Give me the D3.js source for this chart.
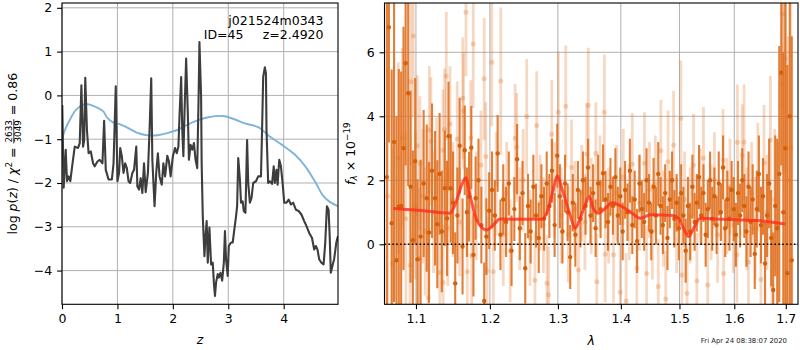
<!DOCTYPE html>
<html>
<head>
<meta charset="utf-8">
<script src="https://cdn.jsdelivr.net/npm/d3@7"></script>
<style>
  body { margin: 0; background: #fff; }
  svg { display: block; font-family: "DejaVu Sans", sans-serif; }
  text { white-space: pre; }
</style>
</head>
<body>
<svg id="chart" width="800" height="350"></svg>
<script>
// ---- redshift probability: log p(z) ----
const pzZ = [
  0.005,0.03,0.067,0.09,0.12,0.15,0.19,0.23,0.29,0.32,
  0.35,0.38,0.40,0.42,0.45,0.48,0.52,0.56,0.59,0.64,
  0.68,0.73,0.76,0.79,0.84,0.90,0.93,0.97,1.00,1.03,
  1.05,1.08,1.11,1.14,1.17,1.20,1.23,1.27,1.30,1.34,
  1.36,1.39,1.42,1.45,1.48,1.51,1.55,1.58,1.61,1.63,
  1.65,1.67,1.70,1.73,1.76,1.80,1.83,1.86,1.90,1.93,
  1.96,2.00,2.04,2.07,2.10,2.12,2.15,2.17,2.19,2.21,
  2.24,2.27,2.29,2.32,2.35,2.38,2.41,2.44,2.465,2.48,
  2.51,2.52,2.54,2.57,2.59,2.61,2.63,2.66,2.69,2.72,
  2.74,2.76,2.78,2.81,2.83,2.86,2.89,2.92,2.94,2.96,
  2.99,3.01,3.05,3.08,3.11,3.14,3.16,3.18,3.21,3.23,
  3.26,3.28,3.31,3.33,3.34,3.36,3.39,3.42,3.45,3.50,
  3.54,3.59,3.61,3.63,3.66,3.68,3.69,3.72,3.75,3.79,
  3.82,3.84,3.87,3.89,3.92,3.95,3.98,4.01,4.05,4.09,
  4.13,4.17,4.22,4.27,4.32,4.37,4.41,4.46,4.51,4.55,
  4.58,4.61,4.64,4.68,4.72,4.75,4.78,4.81,4.83,4.85,
  4.88,4.91,4.95,4.98
];
const pzLogP = [
  -0.22,-2.11,-1.24,-1.96,-1.85,-1.96,-1.55,-1.17,-1.20,-1.09,
  0.23,-1.17,-1.02,0.40,-0.79,-1.32,-1.28,-1.55,-1.62,-1.51,
  -1.47,-1.55,-0.58,-1.70,-1.92,-1.92,-1.55,0.21,-1.96,-1.77,
  -1.20,-1.39,-1.77,-1.55,-1.66,-1.96,-2.00,-1.77,-1.70,-1.17,
  -2.08,-2.15,-1.89,-2.23,-1.55,-2.21,-1.77,-0.79,0.39,-1.47,
  -2.00,-2.53,-1.77,-1.32,-1.85,-2.04,-1.55,-1.85,-1.38,-1.51,
  -1.85,-1.39,-1.20,-1.32,-1.17,-0.48,0.42,-0.79,-1.39,-0.41,
  0.84,-0.41,-1.47,-1.13,-1.24,-1.09,-1.47,-1.66,-0.03,1.22,
  -0.03,-1.55,-2.76,-3.67,-3.21,-2.87,-3.82,-3.02,-3.86,-3.82,
  -4.27,-4.58,-4.27,-4.08,-4.16,-4.05,-4.23,-3.82,-3.10,-3.74,
  -4.12,-3.44,-3.36,-3.36,-3.06,-2.76,-2.53,-1.43,-1.92,-2.45,
  -2.42,-2.64,-2.68,-1.55,-1.02,-2.00,-2.45,-2.34,-2.00,-1.96,
  -1.85,-1.85,-0.79,0.42,0.64,0.50,-0.79,-2.00,-1.96,-2.02,
  -1.62,-2.00,-1.70,-2.04,-1.47,-1.62,-2.00,-2.45,-2.45,-2.38,
  -2.49,-2.45,-2.61,-2.64,-2.72,-2.87,-2.98,-3.14,-3.25,-3.52,
  -3.44,-3.52,-3.74,-3.82,-3.86,-3.36,-2.53,-2.61,-3.21,-4.05,
  -3.89,-3.74,-3.36,-3.21
];
// smooth prior curve
const priorZ = [0.0,0.05,0.14,0.26,0.41,0.50,0.62,0.75,0.81,0.93,1.05,1.17,1.35,1.53,1.72,1.90,2.08,2.26,2.47,2.64,2.91,3.12,3.30,3.55,3.73,3.97,4.21,4.39,4.58,4.70,4.82,4.98];
const priorLogP = [-1.02,-0.80,-0.56,-0.32,-0.20,-0.21,-0.27,-0.37,-0.50,-0.62,-0.66,-0.73,-0.85,-0.91,-0.91,-0.86,-0.79,-0.67,-0.56,-0.50,-0.47,-0.55,-0.64,-0.73,-0.92,-1.13,-1.36,-1.62,-2.00,-2.27,-2.42,-2.53];

// ---- spectrum: primary extraction ----
const waveA = [
  1.063,1.0655,1.069,1.072,1.075,1.078,1.081,1.084,1.0867,1.090,1.093,1.096,1.099,
  1.102,1.106,1.110,1.114,1.117,1.121,1.125,1.128,1.131,1.134,
  1.138,1.141,1.143,1.146,1.149,1.152,1.155,1.158,1.162,1.165,
  1.168,1.171,1.174,1.177,1.180,1.184,1.188,1.192,1.195,1.199,
  1.203,1.207,1.211,1.215,1.219,1.223,1.227,1.231,1.235,1.239,1.243,1.247,1.251,1.255,1.259,1.263,1.267,1.271,1.275,1.279,1.283,1.287,1.291,1.295,1.299,
  1.303,1.307,1.311,1.315,1.319,1.323,1.327,1.331,1.335,1.339,1.343,1.347,1.351,1.355,1.359,1.363,1.367,1.371,1.375,1.379,1.383,1.387,1.391,1.395,1.399,
  1.403,1.407,1.411,1.415,1.419,1.423,1.427,1.431,1.435,1.439,1.443,1.447,1.451,1.455,1.459,1.463,1.467,1.471,1.475,1.479,1.483,1.487,1.491,1.495,1.499,
  1.503,1.507,1.511,1.515,1.519,1.523,1.527,1.531,1.535,1.539,1.543,1.547,1.551,1.555,1.559,1.563,1.567,1.571,1.575,1.579,1.583,1.587,1.591,1.595,1.599,
  1.603,1.607,1.611,1.615,1.619,1.623,1.627,1.631,1.635,1.639,1.643,1.647,1.651,1.655,1.659,1.663,1.667,1.671,1.675,1.679,1.683,1.687,1.691,1.695,1.699,1.703,1.708,1.712
];
const fluxA = [
  2.1,6.78,0.66,3.2,-0.5,1.18,1.2,3.0,5.66,4.72,1.8,0.13,2.6,
  -0.47,0.24,1.9,1.44,0.37,2.3,1.44,0.63,2.2,0.4,
  1.75,0.81,3.38,1.75,1.3,-1.22,0.9,3.08,-0.07,2.94,
  1.0,1.49,3.02,-0.33,1.44,2.0,0.6,-1.77,0.24,1.05,
  1.7,0.9,2.84,0.3,1.4,0.7,1.9,-0.2,1.1,2.66,0.5,1.6,-0.75,1.2,0.4,1.8,0.9,0.2,1.5,0.8,1.9,1.2,2.3,0.6,2.77,
  1.5,0.4,1.9,1.0,-0.4,1.3,0.3,1.7,0.8,2.0,1.2,2.4,0.9,1.6,0.5,1.9,1.1,2.22,1.4,0.7,1.8,1.2,2.1,0.9,1.5,
  0.4,1.7,1.0,2.3,0.6,1.4,0.1,1.9,1.1,0.7,2.0,1.3,0.4,1.8,0.9,2.2,1.2,0.6,1.6,0.2,1.4,2.0,0.8,1.3,0.5,
  1.6,0.9,-0.2,1.2,0.4,1.8,0.7,1.3,2.1,0.9,1.6,0.3,1.1,2.0,0.8,1.5,0.6,1.9,1.0,2.4,0.5,1.4,0.8,1.7,1.1,
  0.3,1.6,0.9,2.0,1.2,0.4,1.8,0.7,1.4,-0.3,1.1,2.2,0.6,1.5,-0.6,0.9,1.9,0.2,-1.43,1.2,0.5,2.2,5.36,1.0,3.0,-0.9,4.0,-0.5
];
const errA = [
  5.5,3.6,4.8,5.0,4.5,4.3,4.2,3.8,3.2,2.9,3.0,2.8,2.6,
  2.5,2.4,2.3,2.3,2.2,2.1,2.1,2.0,1.9,1.9,
  1.8,1.8,1.7,1.7,1.6,1.6,1.5,1.5,1.5,1.4,
  1.4,1.4,1.3,1.3,1.3,1.3,1.2,1.2,1.2,1.2,
  1.2,1.1,1.2,1.1,1.1,1.1,1.0,1.1,1.0,1.1,1.0,1.0,1.1,1.0,1.0,1.0,1.0,1.1,1.0,1.0,1.0,1.0,1.0,1.0,1.0,
  1.0,1.0,0.9,0.9,1.0,0.9,1.0,0.9,0.9,0.9,0.9,0.9,0.9,0.9,0.9,0.9,0.9,0.9,0.9,0.9,0.9,0.9,0.9,0.9,0.9,
  0.9,0.9,0.9,1.0,0.9,0.9,1.0,0.9,0.9,0.9,1.0,0.9,0.9,0.9,0.9,1.0,0.9,0.9,0.9,1.0,0.9,0.9,0.9,0.9,1.0,
  0.9,0.9,1.0,0.9,0.9,1.0,0.9,0.9,1.0,0.9,0.9,1.0,0.9,0.9,1.0,0.9,0.9,1.0,0.9,1.0,0.9,0.9,1.0,0.9,1.0,
  1.0,1.0,1.0,1.0,1.0,1.1,1.1,1.1,1.1,1.1,1.2,1.2,1.2,1.2,1.3,1.3,1.4,1.5,1.8,2.2,2.8,4.0,2.9,5.0,6.0,6.5,7.0,7.0
];

// ---- spectrum: secondary extraction (drawn faint) ----
const waveB = [
  1.064,1.070,1.0773,1.0824,1.087,1.0923,1.0935,1.0965,1.099,1.1017,
  1.1043,1.1052,1.109,1.112,1.116,1.1174,1.1195,1.123,1.127,1.1313,
  1.1355,1.1357,1.1377,1.140,1.142,1.1450,1.149,1.1547,1.158,1.1623,
  1.1632,1.1667,1.1685,1.1733,1.1745,1.1767,1.181,1.1875,1.1920,1.1942,
  1.196,1.2026,1.2048,1.209,1.2154,1.219,1.224,1.229,1.2362,1.2385,
  1.243,1.248,1.2532,1.258,1.2654,1.268,1.273,1.278,1.2834,1.2858,
  1.2906,1.295,1.3007,1.305,1.3121,1.316,1.321,1.326,1.3318,1.337,
  1.342,1.345,1.3474,1.352,1.3594,1.361,1.366,1.3731,1.3744,1.380,
  1.3879,1.393,1.3989,1.404,1.4087,1.414,1.419,1.4266,1.431,1.4395,
  1.4430,1.448,1.453,1.458,1.463,1.4675,1.472,1.476,1.480,1.4896,
  1.495,1.5025,1.5043,1.509,1.5133,1.519,1.5252,1.531,1.537,1.543,
  1.5507,1.557,1.563,1.569,1.579,1.580,1.586,1.592,1.598,1.6049,
  1.6059,1.615,1.6185,1.624,1.627,1.633,1.640,1.645,1.651,1.657,
  1.663,1.6695,1.6725,1.678,1.684,1.6935,1.6942,1.699,1.705,1.710
];
const fluxB = [
  1.5,-0.6,2.69,3.33,0.8,-0.65,5.08,6.51,1.2,3.08,
  -0.45,2.53,1.5,0.4,-1.67,3.57,3.22,1.0,2.06,-0.88,
  2.94,-1.19,3.59,5.26,0.5,3.76,1.4,3.29,0.7,4.56,
  4.17,7.25,-0.86,3.33,-0.36,6.26,1.2,2.48,5.17,2.74,
  -0.83,5.69,-0.86,1.9,5.1,0.3,1.6,-0.2,3.31,3.03,
  0.8,2.0,3.99,0.2,-1.12,3.71,1.3,0.6,-1.22,-1.58,
  3.44,1.7,4.13,0.9,4.31,0.31,2.4,1.1,-0.8,1.6,
  0.7,2.82,4.34,1.2,2.84,-1.17,1.9,4.13,-0.31,0.9,
  -0.33,1.6,-1.5,2.1,-1.77,1.0,2.5,-0.75,1.3,2.53,
  -0.91,1.7,0.4,1.9,-1.32,2.92,0.8,-1.71,2.58,3.1,
  0.6,3.94,-0.96,1.4,-1.53,0.9,2.47,-1.15,1.5,2.69,
  -1.27,1.0,2.0,0.3,2.63,-0.91,1.2,1.8,0.6,-0.33,
  3.19,2.78,3.19,0.8,-0.55,1.6,0.5,2.1,-1.1,2.55,
  1.0,3.26,-1.3,1.4,0.6,5.0,7.2,5.8,2.0,3.0
];
const errB = [
  4.0,3.6,3.0,2.8,2.7,2.5,2.6,2.5,2.3,2.2,
  2.2,2.1,2.1,2.0,2.0,2.0,2.0,1.9,1.9,1.9,
  1.9,1.8,1.9,2.0,1.8,1.8,1.8,1.8,1.7,1.9,
  1.8,2.0,1.7,1.8,1.7,2.0,1.7,1.7,1.9,1.7,
  1.7,2.0,1.6,1.6,2.3,1.6,1.6,1.6,1.7,1.7,
  1.6,1.6,1.8,1.5,1.5,1.7,1.5,1.5,1.5,1.5,
  1.7,1.5,1.9,1.5,1.9,1.5,1.5,1.5,1.5,1.5,
  1.5,1.6,1.8,1.5,1.6,1.5,1.5,1.8,1.5,1.5,
  1.5,1.5,1.5,1.5,1.5,1.5,1.6,1.5,1.5,1.6,
  1.5,1.5,1.5,1.5,1.5,1.6,1.5,1.5,1.6,1.7,
  1.5,1.8,1.5,1.5,1.5,1.5,1.6,1.5,1.5,1.6,
  1.5,1.5,1.5,1.5,1.6,1.5,1.5,1.5,1.5,1.5,
  1.8,1.6,1.8,1.6,1.6,1.6,1.6,1.7,1.7,1.8,
  1.8,2.0,2.0,2.2,2.6,2.8,3.0,3.5,4.5,5.0
];

// ---- best-fit model ----
const modelWave = [1.071,1.110,1.1449,1.1517,1.1608,1.1663,1.1722,1.1815,1.1955,1.2048,1.2144,1.2482,1.2756,1.2855,1.2932,1.2992,1.3060,1.3188,1.3266,1.3344,1.3424,1.3487,1.3555,1.3635,1.3744,1.3853,1.4016,1.4154,1.4322,1.4493,1.4896,1.4984,1.5072,1.5162,1.5252,1.5373,1.5799,1.6431,1.6988];
const modelFlux = [1.12,1.05,0.97,1.23,1.85,2.08,1.54,0.76,0.45,0.60,0.79,0.78,0.78,1.12,1.75,2.14,1.75,0.92,0.50,0.81,1.23,1.49,1.12,0.97,1.12,1.30,1.18,1.02,0.81,0.92,0.90,0.81,0.50,0.24,0.50,0.81,0.78,0.74,0.63];

// ---- ticks ----
const zTicks = [0, 1, 2, 3, 4];
const logpTicks = [-4, -3, -2, -1, 0, 1, 2];
const waveTicks = [1.1, 1.2, 1.3, 1.4, 1.5, 1.6, 1.7];
const fluxTicks = [0, 2, 4, 6];

const svg = d3.select("#chart");
const FS = 12.5;
const L = {x0: 62, x1: 338, y0: 3, y1: 304.3};
const R = {x0: 384.5, x1: 798, y0: 3, y1: 304.3};

const zx = d3.scaleLinear().domain([0, 4.98]).range([L.x0, L.x1]);
const zy = d3.scaleLinear().domain([-4.77, 2.11]).range([L.y1, L.y0]);
const wx = d3.scaleLog().domain([1.06, 1.7246]).range([R.x0, R.x1]);
const fy = d3.scaleLinear().domain([-1.875, 7.54]).range([R.y1, R.y0]);

const defs = svg.append("defs");
defs.append("clipPath").attr("id", "clipL").append("rect")
  .attr("x", L.x0).attr("y", L.y0).attr("width", L.x1 - L.x0).attr("height", L.y1 - L.y0);
defs.append("clipPath").attr("id", "clipR").append("rect")
  .attr("x", R.x0).attr("y", R.y0).attr("width", R.x1 - R.x0).attr("height", R.y1 - R.y0);

function grid(P, xs, xt, ys, yt) {
  const g = svg.append("g").attr("stroke", "#b0b0b0").attr("stroke-width", 1);
  g.selectAll(".gx").data(xt).join("line")
    .attr("x1", d => xs(d)).attr("x2", d => xs(d)).attr("y1", P.y0).attr("y2", P.y1);
  g.selectAll(".gy").data(yt).join("line")
    .attr("x1", P.x0).attr("x2", P.x1).attr("y1", d => ys(d)).attr("y2", d => ys(d));
}

function axes(P, xs, xt, xf, ys, yt, yf) {
  const ax = svg.append("g").attr("transform", `translate(0,${P.y1})`)
    .call(d3.axisBottom(xs).tickValues(xt).tickFormat(xf).tickSize(4.9).tickPadding(4.9).tickSizeOuter(0));
  const ay = svg.append("g").attr("transform", `translate(${P.x0},0)`)
    .call(d3.axisLeft(ys).tickValues(yt).tickFormat(yf).tickSize(4.9).tickPadding(4.9).tickSizeOuter(0));
  [ax, ay].forEach(a => {
    a.select(".domain").remove();
    a.attr("font-family", "DejaVu Sans, sans-serif").attr("font-size", FS);
    a.selectAll("line").attr("stroke", "#000").attr("stroke-width", 1.1);
    a.selectAll("text").attr("fill", "#000");
  });
  svg.append("rect").attr("x", P.x0).attr("y", P.y0)
    .attr("width", P.x1 - P.x0).attr("height", P.y1 - P.y0)
    .attr("fill", "none").attr("stroke", "#000").attr("stroke-width", 1.1);
}

// ================= left panel: p(z) =================
grid(L, zx, zTicks, zy, logpTicks);
const gL = svg.append("g").attr("clip-path", "url(#clipL)");
gL.append("path")
  .datum(d3.range(priorZ.length))
  .attr("fill", "none").attr("stroke", "#80b3d9").attr("stroke-width", 1.9)
  .attr("d", d3.line().x(i => zx(priorZ[i])).y(i => zy(priorLogP[i])).curve(d3.curveCatmullRom));
gL.append("path")
  .datum(d3.range(pzZ.length))
  .attr("fill", "none").attr("stroke", "#3d3d3d").attr("stroke-width", 2.1)
  .attr("stroke-linejoin", "round")
  .attr("d", d3.line().x(i => zx(pzZ[i])).y(i => zy(pzLogP[i])));
axes(L, zx, zTicks, d3.format("d"), zy, logpTicks, d3.format("d"));

svg.append("text").attr("x", 323.5).attr("y", 24.5).attr("text-anchor", "end")
  .attr("font-size", FS).text("j021524m0343");
svg.append("text").attr("x", 243.5).attr("y", 39).attr("text-anchor", "end")
  .attr("font-size", FS).text("ID=45");
svg.append("text").attr("x", 323.5).attr("y", 39).attr("text-anchor", "end")
  .attr("font-size", FS).text("z=2.4920");

// ================= right panel: spectrum =================
grid(R, wx, waveTicks, fy, fluxTicks);
const gR = svg.append("g").attr("clip-path", "url(#clipR)");
const ORANGE = "#e07020";

const lightIdx = d3.range(waveB.length);
const gB = gR.append("g");
gB.selectAll("line").data(lightIdx).join("line")
  .attr("x1", i => wx(waveB[i])).attr("x2", i => wx(waveB[i]))
  .attr("y1", i => fy(fluxB[i] - errB[i])).attr("y2", i => fy(fluxB[i] + errB[i]))
  .attr("stroke", ORANGE).attr("stroke-opacity", 0.27).attr("stroke-width", 2.8);
gB.selectAll("circle").data(lightIdx).join("circle")
  .attr("cx", i => wx(waveB[i])).attr("cy", i => fy(fluxB[i])).attr("r", 2.5)
  .attr("fill", ORANGE).attr("fill-opacity", 0.28);

const darkIdx = d3.range(waveA.length);
const gA = gR.append("g");
gA.selectAll("line").data(darkIdx).join("line")
  .attr("x1", i => wx(waveA[i])).attr("x2", i => wx(waveA[i]))
  .attr("y1", i => fy(fluxA[i] - errA[i])).attr("y2", i => fy(fluxA[i] + errA[i]))
  .attr("stroke", ORANGE).attr("stroke-opacity", 0.9).attr("stroke-width", 2.1);
gA.selectAll("circle").data(darkIdx).join("circle")
  .attr("cx", i => wx(waveA[i])).attr("cy", i => fy(fluxA[i])).attr("r", 2.2)
  .attr("fill", "#d4600a");

gR.append("path")
  .datum(d3.range(modelWave.length))
  .attr("fill", "none").attr("stroke", "#ff2a1a").attr("stroke-opacity", 0.78)
  .attr("stroke-width", 3).attr("stroke-linejoin", "round")
  .attr("d", d3.line().x(i => wx(modelWave[i])).y(i => fy(modelFlux[i])).curve(d3.curveMonotoneX));

gR.append("line")
  .attr("x1", R.x0).attr("x2", R.x1).attr("y1", fy(0)).attr("y2", fy(0))
  .attr("stroke", "#000").attr("stroke-width", 1.5).attr("stroke-dasharray", "1.5,2.4");

axes(R, wx, waveTicks, d3.format(".1f"), fy, fluxTicks, d3.format("d"));

// ---- axis titles ----
svg.append("text").attr("x", (L.x0 + L.x1) / 2).attr("y", 344).attr("text-anchor", "middle")
  .attr("font-size", FS).attr("font-style", "italic").text("z");
svg.append("text").attr("x", (R.x0 + R.x1) / 2).attr("y", 345).attr("text-anchor", "middle")
  .attr("font-size", FS).attr("font-style", "italic").text("λ");

// left y title with a stacked fraction, written along the axis
(function () {
  const g = svg.append("g").attr("font-size", FS);
  const t = g.append("text");
  t.append("tspan").text("log ");
  t.append("tspan").attr("font-style", "italic").text("p");
  t.append("tspan").text("(");
  t.append("tspan").attr("font-style", "italic").text("z");
  t.append("tspan").text(") / ");
  t.append("tspan").attr("font-style", "italic").text("χ");
  t.append("tspan").attr("font-size", 8.8).attr("dy", -4.8).text("2");
  t.append("tspan").attr("dy", 4.8).text(" = ");
  const w1 = t.node().getComputedTextLength();
  const num = g.append("text").attr("font-size", 8.8).attr("text-anchor", "middle").text("2633");
  const den = g.append("text").attr("font-size", 8.8).attr("text-anchor", "middle").text("3049");
  const fw = Math.max(num.node().getComputedTextLength(), den.node().getComputedTextLength()) + 2;
  num.attr("x", w1 + fw / 2).attr("y", -4.6);
  den.attr("x", w1 + fw / 2).attr("y", 4.4);
  g.append("line").attr("x1", w1).attr("x2", w1 + fw).attr("y1", -3.2).attr("y2", -3.2)
    .attr("stroke", "#000").attr("stroke-width", 0.8);
  const tail = g.append("text").attr("x", w1 + fw).text(" = 0.86");
  const total = w1 + fw + tail.node().getComputedTextLength();
  g.attr("transform", `translate(17,${(L.y0 + L.y1) / 2 + total / 2}) rotate(-90)`);
})();

// right y title
(function () {
  const g = svg.append("g").attr("font-size", FS);
  const t = g.append("text");
  t.append("tspan").attr("font-style", "italic").text("f");
  t.append("tspan").attr("font-style", "italic").attr("font-size", 8.8).attr("dy", 2.6).text("λ");
  t.append("tspan").attr("dy", -2.6).text(" × 10");
  t.append("tspan").attr("font-size", 8.8).attr("dy", -5).text("−19");
  const total = t.node().getComputedTextLength();
  g.attr("transform", `translate(354.5,${(R.y0 + R.y1) / 2 + total / 2}) rotate(-90)`);
})();

// time stamp
svg.append("text").attr("x", 787).attr("y", 342.5).attr("text-anchor", "end")
  .attr("font-size", 6.9).attr("fill", "#222").text("Fri Apr 24 08:38:07 2020");
</script>
</body>
</html>
